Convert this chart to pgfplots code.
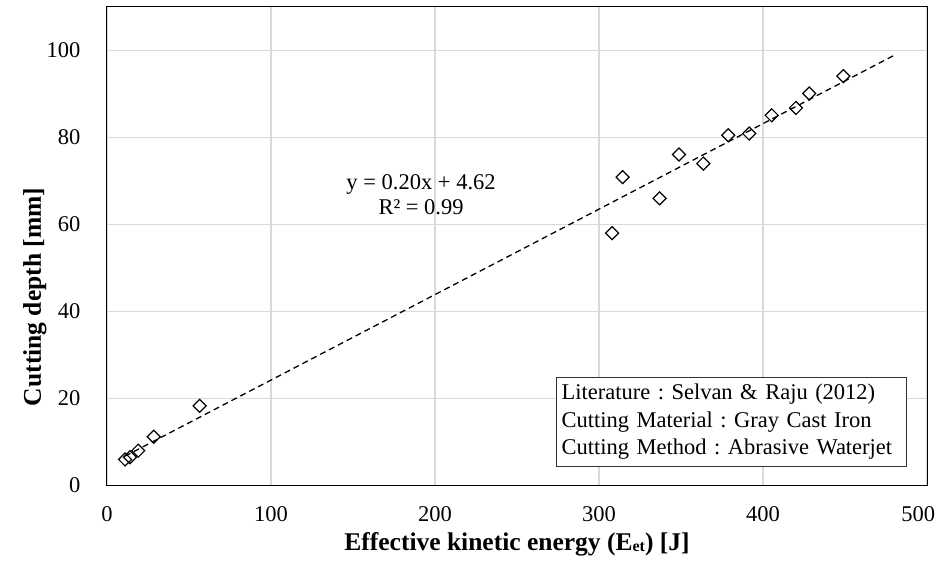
\documentclass[border=0pt]{standalone}
\usepackage{fontspec}
\setmainfont{Liberation Serif}
\usepackage{pgfplots}
\pgfplotsset{compat=1.18}
\frenchspacing
\begin{document}
\begin{tikzpicture}
\begin{axis}[
  scale only axis, width=820pt, height=478.5pt,
  xmin=0, xmax=500, ymin=0, ymax=110,
  xtick={0,100,...,500}, ytick={0,20,...,100},
  xticklabels={0,100,200,300,400,{\hbox to 0pt{\hss 500\hskip-8pt}}},
  grid=major, major grid style={draw=black!15, line width=1.2pt},
  axis line style={line width=1pt},
  major tick length=0pt,
  /pgf/number format/assume math mode=true,
  tick label style={font=\fontsize{22.5}{27}\selectfont},
  xticklabel style={yshift=-18pt},
  yticklabel style={xshift=-23pt},
  xlabel={\textbf{Effective kinetic energy (E{\fontsize{16}{16}\selectfont\raisebox{-1.5pt}{et}}) [J]}},
  ylabel={\textbf{Cutting depth [mm]}},
  label style={font=\fontsize{25.5}{30}\selectfont},
  xlabel style={at={(rel axis cs:0.5,-0.122)}, anchor=center},
  ylabel style={at={(rel axis cs:-0.088,0.394)}, anchor=center, rotate=0},
]
\addplot[only marks, mark=square, mark size=4.6pt,
  mark options={rotate=45, fill=white, draw=black, line width=1.2pt}] table {
x y
11 6.0
14 6.5
19 8.0
28.5 11.2
56.5 18.3
308 58
314.4 70.9
337 66
348.8 76.1
363.6 74.0
378.8 80.5
391.6 80.9
405.3 85.1
420.1 86.8
428.2 90.1
449.0 94.1
};
\addplot[black, dash pattern=on 6pt off 4pt, line width=1.3pt] coordinates {(11,6.75) (479.5,98.8)};
\node[align=center, font=\fontsize{22.5}{25}\selectfont] at (axis cs:191.5,66.9) {y = 0.20x + 4.62\\R² = 0.99};
\node[draw=black!80, line width=0.9pt, fill=white, anchor=south east, text width=340pt, align=left,
  inner xsep=5pt, inner ysep=7pt, font=\fontsize{22.5}{27.5}\selectfont]
  at (axis cs:487.8,4.25) {Literature : Selvan \& Raju (2012)\\Cutting Material : Gray Cast Iron\\Cutting Method : Abrasive Waterjet};
\end{axis}
\pgfresetboundingbox
\path[use as bounding box] (current axis.south west) ++(-107pt,-75.5pt) rectangle ++(942pt,561pt);
\end{tikzpicture}
\end{document}
